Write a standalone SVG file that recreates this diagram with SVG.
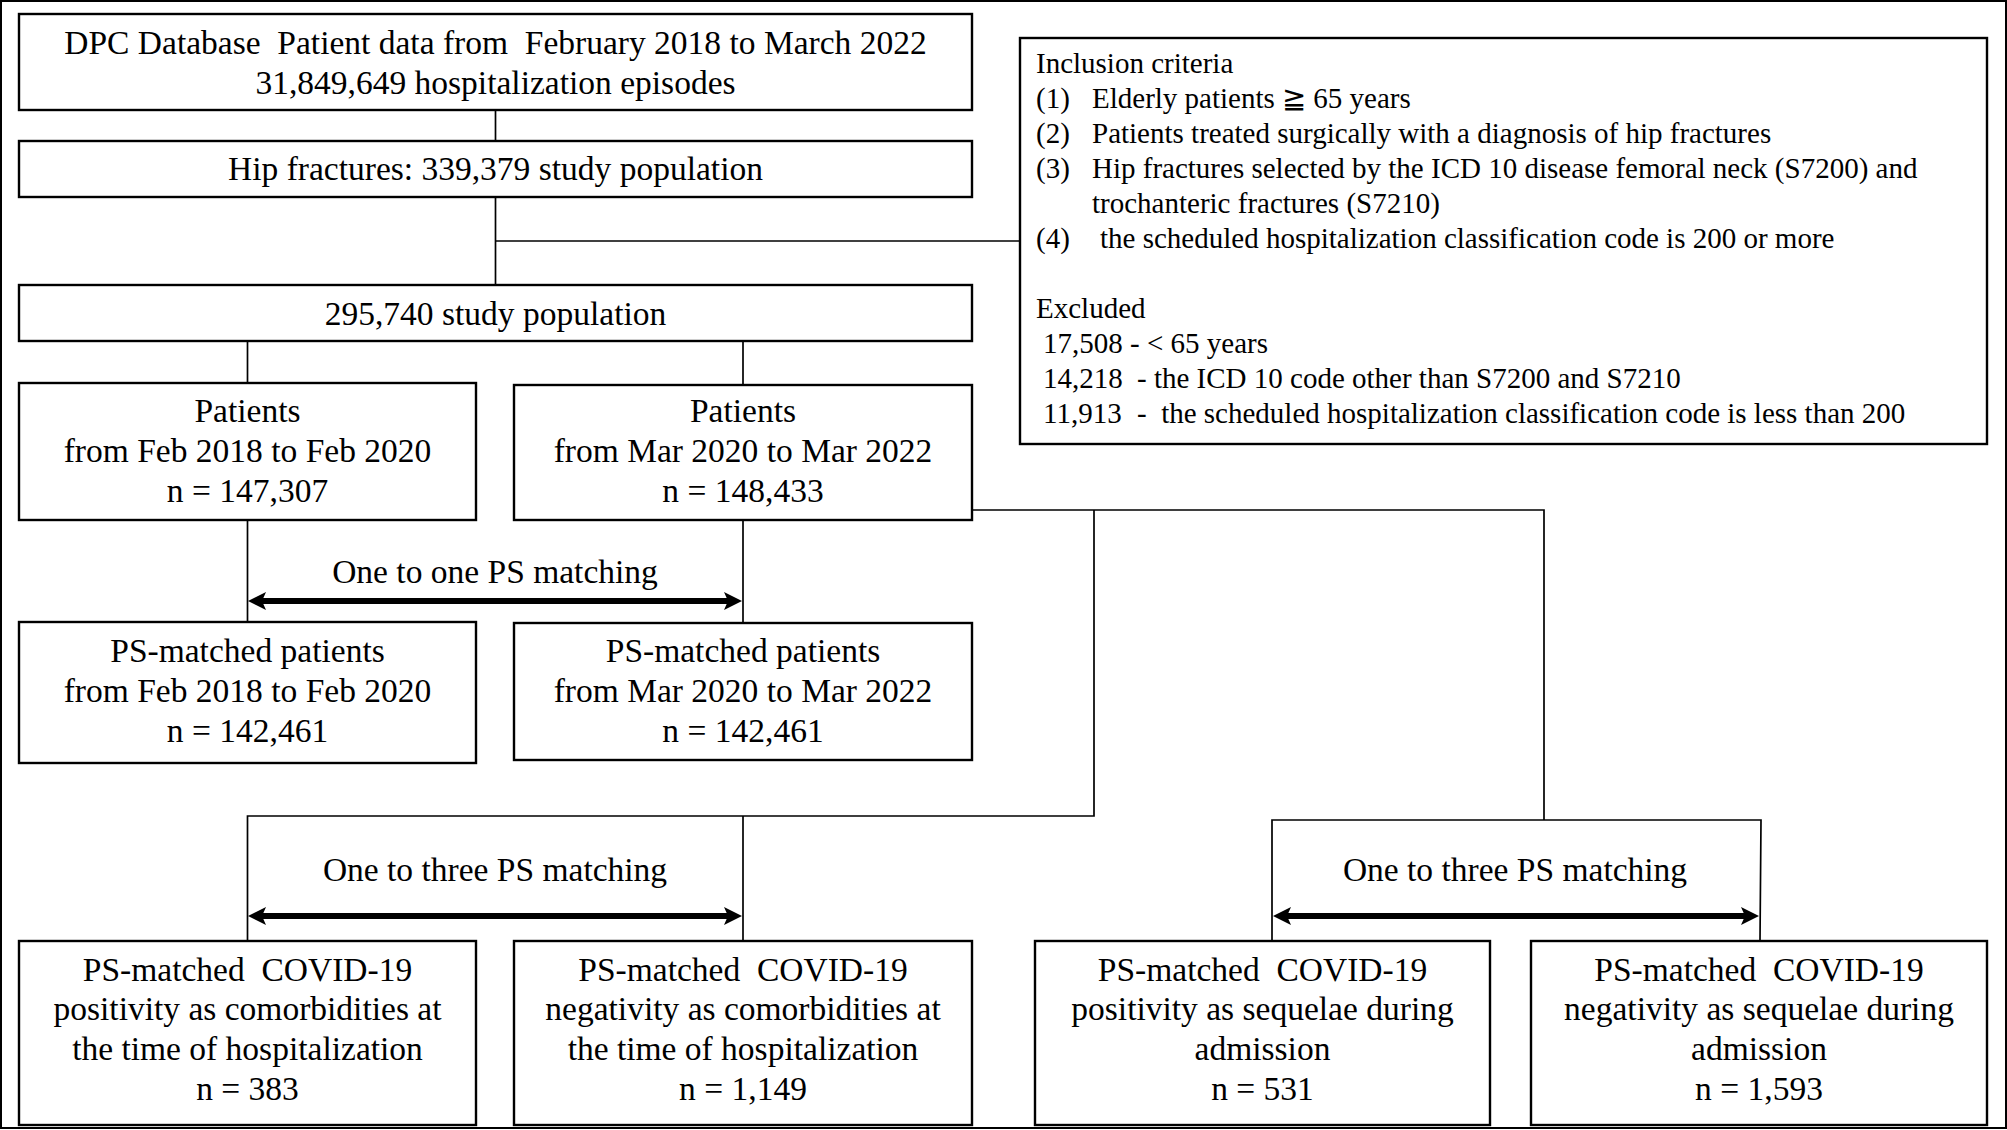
<svg xmlns="http://www.w3.org/2000/svg" width="2007" height="1130" viewBox="0 0 2007 1130">
<style>
.box{fill:#fff;stroke:#000;stroke-width:2.4}
.ln{fill:none;stroke:#000;stroke-width:1.7}
.arr{fill:none;stroke:#000;stroke-width:6}
text{font-family:"Liberation Serif","Times New Roman",serif;fill:#000}
.t{font-size:33.5px;text-anchor:middle}
.s{font-size:29px}
</style>
<defs>
<marker id="ah" markerUnits="userSpaceOnUse" markerWidth="20" markerHeight="18" refX="10" refY="9" orient="auto-start-reverse" viewBox="0 0 20 18">
<path d="M0,0 L18,9 L0,18 L4,9 z" fill="#000"/>
</marker>
</defs>
<rect x="1" y="1" width="2005" height="1127" fill="#fff" stroke="#000" stroke-width="2"/>
<g id="connectors">
<line class="ln" x1="495.5" y1="110" x2="495.5" y2="141"/>
<line class="ln" x1="495.5" y1="197" x2="495.5" y2="285"/>
<line class="ln" x1="495.5" y1="241" x2="1020" y2="241"/>
<line class="ln" x1="247.5" y1="341" x2="247.5" y2="383"/>
<line class="ln" x1="743" y1="341" x2="743" y2="385"/>
<line class="ln" x1="247.5" y1="520" x2="247.5" y2="622"/>
<line class="ln" x1="743" y1="520" x2="743" y2="623"/>
<polyline class="ln" points="972,510 1544,510 1544,820"/>
<polyline class="ln" points="1094,510 1094,816 247.5,816 247.5,941"/>
<line class="ln" x1="743" y1="816" x2="743" y2="941"/>
<polyline class="ln" points="1272,941 1272,820 1761,820 1760,941"/>
<line class="arr" x1="256" y1="601" x2="734" y2="601" marker-start="url(#ah)" marker-end="url(#ah)"/>
<line class="arr" x1="256" y1="916" x2="734" y2="916" marker-start="url(#ah)" marker-end="url(#ah)"/>
<line class="arr" x1="1281" y1="916" x2="1751" y2="916" marker-start="url(#ah)" marker-end="url(#ah)"/>
<text class="t" x="495" y="583">One to one PS matching</text>
<text class="t" x="495" y="881">One to three PS matching</text>
<text class="t" x="1515" y="881">One to three PS matching</text>
</g>
<g id="n1">
<rect class="box" x="19" y="14" width="953" height="96"/>
<text class="t" x="495.5" y="54" xml:space="preserve">DPC Database  Patient data from  February 2018 to March 2022</text>
<text class="t" x="495.5" y="94">31,849,649 hospitalization episodes</text>
</g>
<g id="n2">
<rect class="box" x="19" y="141" width="953" height="56"/>
<text class="t" x="495.5" y="180">Hip fractures: 339,379 study population</text>
</g>
<g id="n3">
<rect class="box" x="19" y="285" width="953" height="56"/>
<text class="t" x="495.5" y="325">295,740 study population</text>
</g>
<g id="n4">
<rect class="box" x="19" y="383" width="457" height="137"/>
<text class="t" x="247.5" y="422">Patients</text>
<text class="t" x="247.5" y="462">from Feb 2018 to Feb 2020</text>
<text class="t" x="247.5" y="502">n = 147,307</text>
</g>
<g id="n5">
<rect class="box" x="514" y="385" width="458" height="135"/>
<text class="t" x="743" y="422">Patients</text>
<text class="t" x="743" y="462">from Mar 2020 to Mar 2022</text>
<text class="t" x="743" y="502">n = 148,433</text>
</g>
<g id="n6">
<rect class="box" x="19" y="622" width="457" height="141"/>
<text class="t" x="247.5" y="662">PS-matched patients</text>
<text class="t" x="247.5" y="702">from Feb 2018 to Feb 2020</text>
<text class="t" x="247.5" y="742">n = 142,461</text>
</g>
<g id="n7">
<rect class="box" x="514" y="623" width="458" height="137"/>
<text class="t" x="743" y="662">PS-matched patients</text>
<text class="t" x="743" y="702">from Mar 2020 to Mar 2022</text>
<text class="t" x="743" y="742">n = 142,461</text>
</g>
<g id="n8">
<rect class="box" x="19" y="941" width="457" height="184"/>
<text class="t" x="247.5" y="981" xml:space="preserve">PS-matched  COVID-19</text>
<text class="t" x="247.5" y="1020">positivity as comorbidities at</text>
<text class="t" x="247.5" y="1060">the time of hospitalization</text>
<text class="t" x="247.5" y="1100">n = 383</text>
</g>
<g id="n9">
<rect class="box" x="514" y="941" width="458" height="184"/>
<text class="t" x="743" y="981" xml:space="preserve">PS-matched  COVID-19</text>
<text class="t" x="743" y="1020">negativity as comorbidities at</text>
<text class="t" x="743" y="1060">the time of hospitalization</text>
<text class="t" x="743" y="1100">n = 1,149</text>
</g>
<g id="n10">
<rect class="box" x="1035" y="941" width="455" height="184"/>
<text class="t" x="1262.5" y="981" xml:space="preserve">PS-matched  COVID-19</text>
<text class="t" x="1262.5" y="1020">positivity as sequelae during</text>
<text class="t" x="1262.5" y="1060">admission</text>
<text class="t" x="1262.5" y="1100">n = 531</text>
</g>
<g id="n11">
<rect class="box" x="1531" y="941" width="456" height="184"/>
<text class="t" x="1759" y="981" xml:space="preserve">PS-matched  COVID-19</text>
<text class="t" x="1759" y="1020">negativity as sequelae during</text>
<text class="t" x="1759" y="1060">admission</text>
<text class="t" x="1759" y="1100">n = 1,593</text>
</g>
<g id="criteria">
<rect class="box" x="1020" y="38" width="967" height="406"/>
<text class="s" x="1036" y="73">Inclusion criteria</text>
<text class="s" x="1036" y="108">(1)</text><text class="s" x="1092" y="108">Elderly patients ≧ 65 years</text>
<text class="s" x="1036" y="143">(2)</text><text class="s" x="1092" y="143">Patients treated surgically with a diagnosis of hip fractures</text>
<text class="s" x="1036" y="178">(3)</text><text class="s" x="1092" y="178">Hip fractures selected by the ICD 10 disease femoral neck (S7200) and</text>
<text class="s" x="1092" y="213">trochanteric fractures (S7210)</text>
<text class="s" x="1036" y="248">(4)</text><text class="s" x="1100" y="248">the scheduled hospitalization classification code is 200 or more</text>
<text class="s" x="1036" y="318">Excluded</text>
<text class="s" x="1043" y="353">17,508 - &lt; 65 years</text>
<text class="s" x="1043" y="388">14,218</text><text class="s" x="1137" y="388">- the ICD 10 code other than S7200 and S7210</text>
<text class="s" x="1043" y="423">11,913</text><text class="s" x="1137" y="423" xml:space="preserve">-  the scheduled hospitalization classification code is less than 200</text>
</g>
</svg>
